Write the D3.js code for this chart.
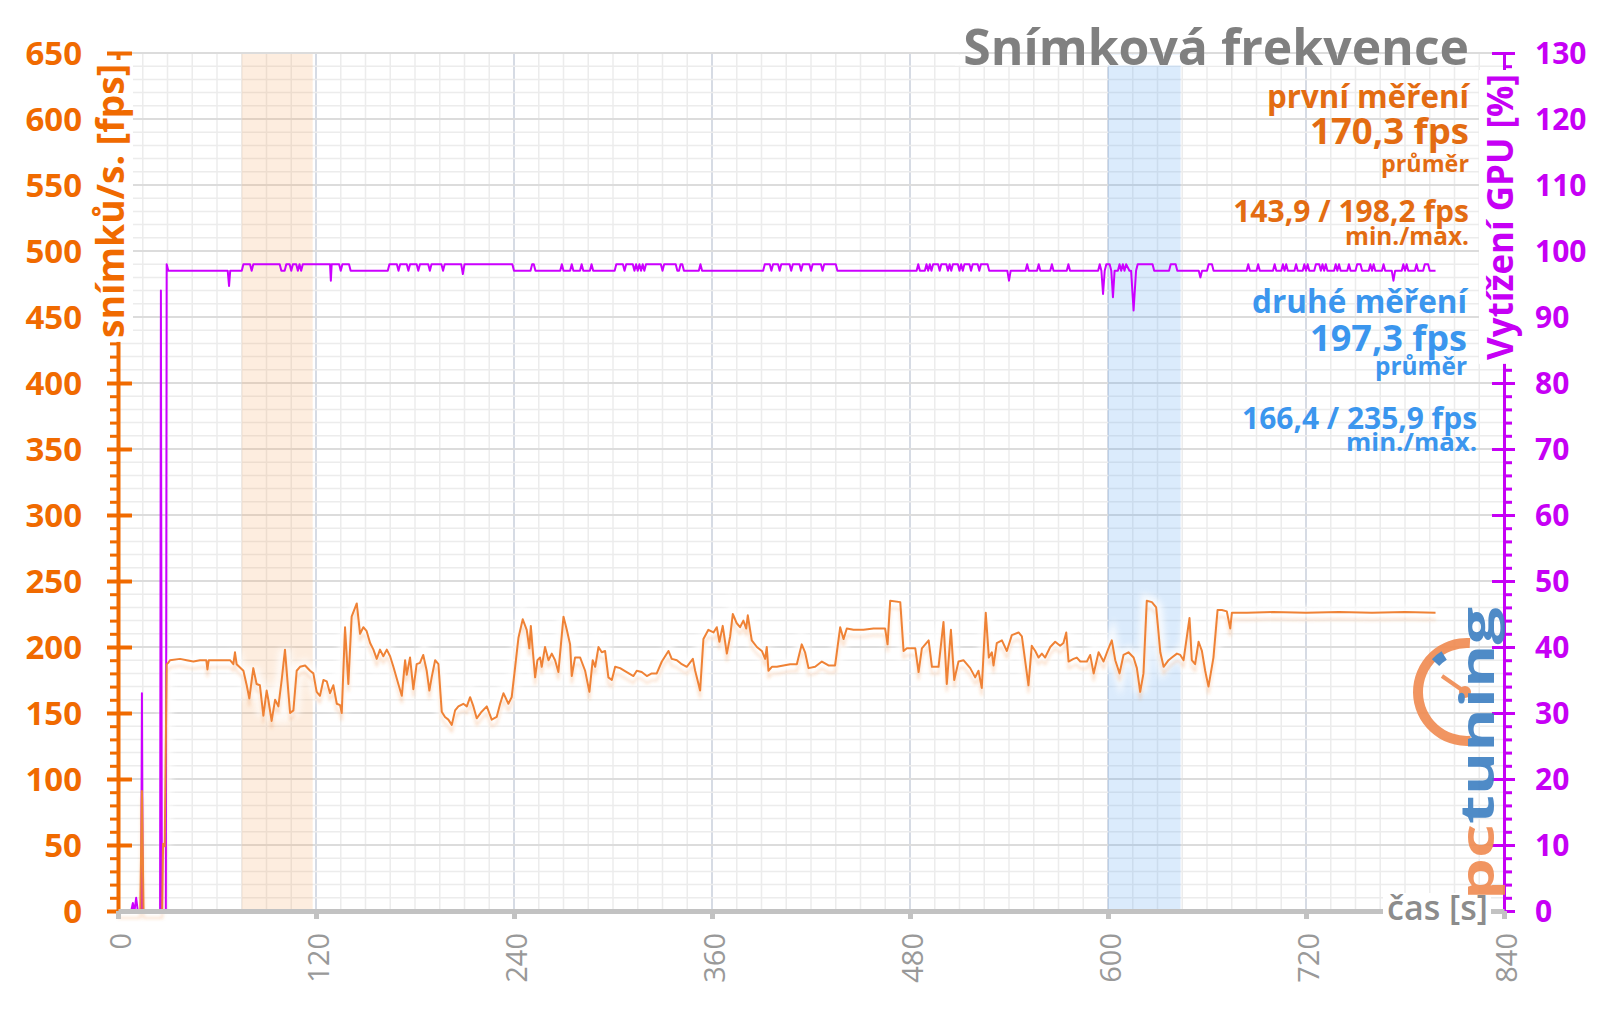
<!DOCTYPE html>
<html>
<head>
<meta charset="utf-8">
<script src="https://cdn.jsdelivr.net/npm/d3@7"></script>
<style>
body { margin: 0; background: #fff; }
svg { display: block; font-family: "Open Sans", sans-serif; }
</style>
</head>
<body>
<svg width="1600" height="1009"></svg>
<script>
// tick values
var fpsTicks = [0, 50, 100, 150, 200, 250, 300, 350, 400, 450, 500, 550, 600, 650];
var gpuTicks = [0, 10, 20, 30, 40, 50, 60, 70, 80, 90, 100, 110, 120, 130];
var timeTicks = [0, 120, 240, 360, 480, 600, 720, 840];

// highlighted ranges [s]
var bandFrom = [75, 600];
var bandTo = [118, 644];

// texts
var titleText = "Snímková frekvence";
var run1Text = ["první měření", "170,3 fps", "průměr", "143,9 / 198,2 fps", "min./max."];
var run2Text = ["druhé měření", "197,3 fps", "průměr", "166,4 / 235,9 fps", "min./max."];

// frame rate [s, fps]
var fps = [[0,0],[13.5,0],[14.5,91],[15.5,0],[26.8,0],[27.3,51],[28.3,49],[29.5,187],[30.5,188],[31.5,190],
[37.6,191],[41.6,190],[45.7,189],[49.7,190],[53.5,190],[54.2,183],[55,190],[67.9,190],[69.9,187],[70.9,196],
[71.9,187],[76,182],[78,171],[79.6,161],[82,184],[84,172],[86,171],[88.1,148],[90.1,167],[91.1,160],
[93.1,144],[95.2,160],[97.2,155],[99.2,175],[101.2,198],[103.3,165],[104.3,150],[106.3,152],[108.3,182],[110.3,185],
[113.4,186],[116.4,182],[118.4,180],[120.4,166],[122.4,163],[124.5,175],[126.5,174],[128.5,165],[130.5,171],[132.6,157],
[134.6,156],[135.6,150],[137.6,215],[139.6,172],[141.6,223],[144.7,233],[146.7,210],[148.7,215],[150.7,212],[152.8,203],
[154.8,198],[156.8,191],[158.8,198],[160.8,193],[162.9,198],[164.9,193],[166.9,185],[169.9,172],[172,163],[174,190],
[175,179],[177,192],[179,168],[181,187],[183,188],[185,194],[187.1,182],[188.7,167],[190.1,177],[192.2,190],
[194.2,187],[196.2,151],[198.2,147],[200.2,145],[202.3,141],[204.3,152],[206.3,155],[209.3,157],[211.4,155],[213.4,162],
[215.4,155],[217.4,146],[220.4,151],[223.5,155],[226.5,145],[229.5,147],[231.6,157],[233.6,165],[236.6,157],[238.6,162],
[240.7,185],[242.7,207],[245.3,221],[247.7,213],[249.3,199],[250.2,216],[251.2,200],[252.8,177],[254.2,190],[255.8,192],
[256.8,185],[258.8,200],[260.9,190],[262.9,195],[264.9,190],[266.9,181],[270,223],[272,213],[274,202],[275,178],
[277,192],[280.1,192],[283.1,182],[285.7,166],[287.7,190],[289.2,185],[291.2,200],[293.2,196],[295.2,197],[297.2,177],
[299.3,175],[301.3,185],[304.3,184],[308.3,181],[312.4,178],[314.4,182],[317.4,181],[320.5,178],[323.5,180],[326.5,180],
[329.6,189],[333.6,197],[335.6,191],[338.7,190],[341.7,187],[344.7,185],[348.4,191],[349.8,182],[352.8,167],[354.8,206],
[357.8,213],[360.9,211],[362.9,215],[364.5,204],[366.5,216],[369,195],[371,208],[372.6,225],[375,218],[377,215],
[379,220],[380.7,214],[381.7,224],[384.1,205],[387.2,200],[390.2,197],[392.2,191],[393.2,200],[394.2,182],[396.3,185],
[399.3,185],[403.3,186],[407.4,187],[411.4,187],[414.4,202],[416.4,196],[418.5,184],[422.5,185],[426.6,189],[430.6,186],
[434.6,186],[437.7,215],[439.7,206],[441.7,214],[445.8,213],[451.8,213],[457.9,214],[464.9,214],[466.4,202],[468,235],
[474.1,234],[476.1,197],[478.1,199],[483.2,199],[485.2,181],[487.2,199],[491.3,205],[493.3,185],[497.3,185],[500.3,219],
[502.3,172],[504.8,213],[506.8,175],[509.4,189],[512.4,190],[516.5,184],[519.5,177],[521.5,182],[523.5,169],[525.9,226],
[527.8,192],[529.6,196],[530.6,186],[532.6,203],[535.7,205],[538.7,197],[541.7,209],[545.8,211],[547.8,208],[551.8,171],
[553.8,201],[555.9,197],[557.9,192],[559.9,195],[561.9,192],[565,200],[568,204],[571,201],[573,203],[574.7,211],
[576.1,189],[579.1,191],[581.1,192],[583.2,189],[587.2,189],[589.2,194],[591.3,180],[594.3,196],[597.3,189],[600.3,199],
[602.3,205],[604.4,190],[607,180],[609.4,194],[612.4,196],[615.5,192],[617.5,184],[619.5,166],[621.5,180],[623.5,235],
[626.6,234],[629.2,230],[631.7,196],[633.7,185],[636.7,190],[638.7,192],[641.8,195],[643.8,194],[645.8,190],[649.4,222],
[650.8,190],[652.8,187],[654.9,204],[656.9,197],[658.9,182],[660.9,170],[663.9,192],[666.4,228],[669,228],[672,227],
[674.1,214],[675.1,226],[684.2,226],[700,226.5],[720,226],[740,226.5],[760,226],[780,226.5],[798.5,226]];

// GPU load [s, %]
var gpu = [[0,0],[8,0],[9,1.2],[10,0],[11,2],[12,0],[14,0],[14.5,33],[15,0],[25.5,0],[26,94],[26.6,0],[29,0],[29.5,98],[30.5,97],
[66.5,97],[67.3,94.7],[68,97],[75,97],[76,98],[80,98],[81,97],[82,98],[98,98],[99,97],[101,97],[102,98],
[104,98],[105,97],[106,98],[108,98],[109,97],[110,98],[111,97],[112,98],[128.5,98],[129,95.5],[129.5,98],
[134,98],[135,97],[136,98],[140,98],[141,97],[163.5,97],[164.5,98],
[169,98],[170,97],[171,98],[175,98],[176,97],[177,98],[181,98],[182,97],[183,98],[188,98],[189,97],[190,98],[196,98],[197,97],[198,98],
[208,98],[209,96.5],[210,98],[239,98],[240,97],[250,97],[251,98],[252,98],[253,97],
[268,97],[269,98],[270,97],[274,97],[275,98],[276,97],[280,97],[281,98],[282,97],[286,97],[287,98],[288,97],
[301,97],[302,98],[306,98],[307,97],[308,98],[312,98],[313,97],[314,98],[315,97],[316,98],[317,97],[318,98],[319,97],[320,98],
[329,98],[330,97],[331,98],[338,98],[339,97],[340,97],[341,98],[342,98],[343,97],[352,97],[353,98],[354,97],
[391,97],[392,98],[395,98],[396,97],[397,98],[400,98],[401,97],[402,98],[407,98],[408,97],[409,98],[413,98],[414,97],[415,98],
[419,98],[420,97],[421,98],[426,98],[427,97],[428,98],[435,98],[436,97],
[484,97],[485,98],[486,97],[489,97],[490,98],[491,97],[492,98],[493,97],[494,98],[497,98],[498,97],[499,98],[502,98],[503,97],
[504,98],[505,97],[506,98],[509,98],[510,97],[511,98],[512,97],[513,98],[516,98],[517,97],[518,98],[521,98],[522,97],[523,98],
[527,98],[528,97],[539,97],[540,95.5],[541,97],[550,97],[551,98],[552,97],[557,97],[558,98],[559,97],[565,97],[566,98],[567,97],
[575,97],[576,98],[577,97],[594,97],[595,98],[596,97],[597,93.5],[598,97],[599,98],[601,98],[602,97],[603,93],[604,97],
[606,97],[607,98],[608,97],[609,98],[610,97],[611,98],[613,97],[614,97],[615.5,91],[617,97],[618,98],[627,98],[628,97],
[637,97],[638,98],[641,98],[642,97],[655,97],[656,96],[657,97],[660,97],[661,98],[663,98],[664,97],
[684,97],[685,98],[686,97],[690,97],[691,98],[692,97],[700,97],[701,98],[702,97],[705,97],[706,98],[707,97],[708,98],[709,97],
[713,97],[714,98],[715,97],[718,97],[719,98],[720,97],[721,98],[722,97],[725,97],[726,98],[728,98],[729,97],[730,98],[731,97],
[732,98],[733,97],[737,97],[738,98],[739,97],[740,98],[741,97],[745,97],[746,98],[747,97],[750,97],[751,98],[753,98],[754,97],
[758,97],[759,98],[760,97],[761,98],[762,97],[766,97],[767,98],[768,97],[772,97],[773,95.5],[774,97],[778,97],[779,98],[780,97],
[781,98],[782,97],[786,97],[787,98],[788,97],[791,97],[792,98],[794,98],[795,97],[798.5,97]];

var orange = "#f06a00", orangeText = "#e36c12", orangeLine = "#ef8236";
var purple = "#c600f5", purpleLine = "#cc00ff";
var blue = "#3b96ee", gray = "#8c8c8c";

var svg = d3.select("svg");

var x = d3.scaleLinear().domain([0, 840]).range([118, 1504]);
var y = d3.scaleLinear().domain([0, 650]).range([911, 53]);
var y2 = d3.scaleLinear().domain([0, 130]).range([911, 53]);

var defs = svg.append("defs");
defs.append("filter").attr("id", "glow").attr("filterUnits", "userSpaceOnUse")
    .attr("x", 0).attr("y", 0).attr("width", 1600).attr("height", 1009)
  .append("feGaussianBlur").attr("stdDeviation", 3);
defs.append("filter").attr("id", "shadow").attr("filterUnits", "userSpaceOnUse")
    .attr("x", 0).attr("y", 0).attr("width", 1600).attr("height", 1009)
  .append("feDropShadow").attr("dx", 0).attr("dy", 7).attr("stdDeviation", 1.5)
    .attr("flood-color", orangeLine).attr("flood-opacity", 0.25);

// grid
var grid = svg.append("g");
grid.selectAll(".vmin").data(d3.range(0, 841, 15)).enter().append("line")
    .attr("x1", function(d) { return x(d); }).attr("x2", function(d) { return x(d); })
    .attr("y1", 53).attr("y2", 911)
    .attr("stroke", function(d) { return d % 120 ? "#ececec" : "#d6dbe4"; })
    .attr("stroke-width", function(d) { return d % 120 ? 1.5 : 2; });
grid.selectAll(".hmin").data(d3.range(10, 651, 10)).enter().append("line")
    .attr("x1", 118).attr("x2", 1504)
    .attr("y1", function(d) { return y(d); }).attr("y2", function(d) { return y(d); })
    .attr("stroke", function(d) { return d % 50 ? "#ececec" : "#dcdcdc"; })
    .attr("stroke-width", function(d) { return d % 50 ? 1.5 : 2; });

// highlighted ranges
svg.selectAll(".band").data(bandFrom).enter().append("rect")
    .attr("x", function(d) { return x(d); })
    .attr("width", function(d, i) { return x(bandTo[i]) - x(d); })
    .attr("y", 54).attr("height", 857)
    .attr("fill", function(d, i) { return i ? "#5aa2f0" : "#f7a35e"; })
    .attr("opacity", function(d, i) { return i ? 0.22 : 0.2; });

// lines
var fpsLine = d3.line().x(function(d) { return x(d[0]); }).y(function(d) { return y(d[1]); });
var gpuLine = d3.line().x(function(d) { return x(d[0]); }).y(function(d) { return y2(d[1]); });

svg.append("path").attr("d", fpsLine(fps.slice(6))).attr("fill", "none")
    .attr("stroke", "#fff").attr("stroke-width", 12).attr("opacity", 0.8).attr("filter", "url(#glow)");
svg.append("path").attr("d", gpuLine(gpu)).attr("fill", "none")
    .attr("stroke", purpleLine).attr("stroke-width", 2).attr("stroke-linejoin", "round");
svg.append("path").attr("d", fpsLine(fps)).attr("fill", "none")
    .attr("stroke", orangeLine).attr("stroke-width", 2).attr("stroke-linejoin", "round")
    .attr("filter", "url(#shadow)");

// title box
svg.append("rect").attr("x", 955).attr("y", 54.5).attr("width", 520).attr("height", 11).attr("fill", "#fff");

function fit(t, w) {
  var fs = +t.attr("font-size");
  t.attr("font-size", fs * w / t.node().getComputedTextLength());
  return t;
}

function label(str, xr, yb, w, color, size) {
  var t = svg.append("text").attr("x", xr).attr("y", yb).attr("text-anchor", "end")
      .attr("font-weight", 700).attr("font-size", size).attr("fill", color).text(str);
  return fit(t, w);
}

label(titleText, 1469, 65, 506, "#808080", 50);
var r1x = [1469, 1469, 1469, 1469, 1469], r1y = [108, 144, 172, 222, 245], r1w = [202, 159, 88, 236, 124];
var r2x = [1467, 1467, 1467, 1477, 1477], r2y = [313, 351, 375, 429, 451], r2w = [215, 157, 92, 235, 131];
run1Text.forEach(function(s, i) { label(s, r1x[i], r1y[i], r1w[i], orangeText, 30); });
run2Text.forEach(function(s, i) { label(s, r2x[i], r2y[i], r2w[i], blue, 30); });

// left axis
var minorFps = d3.range(0, 651, 10).filter(function(d) { return d % 50; });
var minorGpu = d3.range(0, 131, 2).filter(function(d) { return d % 10; });

var lMinor = svg.append("g").attr("transform", "translate(118,0)")
    .call(d3.axisLeft(y).tickValues(minorFps).tickSize(8).tickSizeOuter(0).tickFormat(""));
lMinor.select(".domain").remove();
lMinor.selectAll(".tick line").attr("stroke", orange).attr("stroke-width", 3);

var lAxis = svg.append("g").attr("transform", "translate(118,0)")
    .call(d3.axisLeft(y).tickValues(fpsTicks).tickSize(11).tickSizeOuter(0).tickPadding(25));
lAxis.select(".domain").attr("stroke", orange).attr("stroke-width", 4);
lAxis.selectAll(".tick line").attr("stroke", orange).attr("stroke-width", 4).attr("x1", 14);
lAxis.selectAll(".tick text").attr("fill", orange).attr("font-size", 33).attr("font-weight", 700)
    .attr("font-family", "Open Sans").attr("dy", "0.36em");

// right axis
var rMinor = svg.append("g").attr("transform", "translate(1504,0)")
    .call(d3.axisRight(y2).tickValues(minorGpu).tickSize(8).tickSizeOuter(0).tickFormat(""));
rMinor.select(".domain").remove();
rMinor.selectAll(".tick line").attr("stroke", purple).attr("stroke-width", 3);

var rAxis = svg.append("g").attr("transform", "translate(1504,0)")
    .call(d3.axisRight(y2).tickValues(gpuTicks).tickSize(11).tickSizeOuter(0).tickPadding(20));
rAxis.select(".domain").attr("stroke", purple).attr("stroke-width", 3);
rAxis.selectAll(".tick line").attr("stroke", purple).attr("stroke-width", 3).attr("x1", -12);
rAxis.selectAll(".tick text").attr("fill", purple).attr("font-size", 30).attr("font-weight", 700)
    .attr("font-family", "Open Sans").attr("dy", "0.36em");

// bottom axis
var bAxis = svg.append("g").attr("transform", "translate(0,911)")
    .call(d3.axisBottom(x).tickValues(timeTicks).tickSize(8).tickSizeOuter(0));
bAxis.select(".domain").attr("stroke", "#c2c2c2").attr("stroke-width", 5);
bAxis.selectAll(".tick line").attr("stroke", "#c2c2c2").attr("stroke-width", 5);
bAxis.selectAll(".tick text").attr("fill", "#999").attr("font-size", 29).attr("font-family", "Open Sans")
    .attr("transform", "rotate(-90)").attr("text-anchor", "end")
    .attr("x", -22).attr("y", 0).attr("dy", "0.42em");

// axis titles with white backing
function axisTitle(tx, ty, str, w, color) {
  var g = svg.append("g").attr("transform", "translate(" + tx + "," + ty + ") rotate(-90)");
  var bg = g.append("rect").attr("fill", "#fff");
  var t = g.append("text").attr("text-anchor", "end").attr("font-size", 36)
      .attr("font-weight", 700).attr("fill", color).text(str);
  fit(t, w);
  var b = t.node().getBBox();
  bg.attr("x", b.x - 4).attr("y", b.y + 3).attr("width", b.width + 8).attr("height", b.height - 5);
}
axisTitle(124, 64, "snímků/s. [fps]", 274, orange);
axisTitle(1513, 74, "Vytížení GPU [%]", 286, purple);

// time label
svg.append("rect").attr("x", 1383).attr("y", 893).attr("width", 108).attr("height", 36).attr("fill", "#fff");
var tl = svg.append("text").attr("x", 1488).attr("y", 920).attr("text-anchor", "end")
    .attr("font-size", 32).attr("font-weight", 600).attr("fill", gray).text("čas [s]");
fit(tl, 101);

// logo
var logo = svg.append("g").attr("opacity", 0.9);
var arc = d3.arc();
logo.append("path").attr("transform", "translate(1467,692)")
    .attr("d", arc({innerRadius: 44, outerRadius: 54, startAngle: -Math.PI - 0.08, endAngle: 0.06}))
    .attr("fill", "#f08a50");
logo.append("path").attr("transform", "translate(1467,692)")
    .attr("d", arc({innerRadius: 38, outerRadius: 48, startAngle: -0.82, endAngle: -0.56}))
    .attr("fill", "#3d7fc2");
logo.append("line").attr("x1", 1465).attr("y1", 692).attr("x2", 1442).attr("y2", 676)
    .attr("stroke", "#f08a50").attr("stroke-width", 4);
logo.append("circle").attr("cx", 1465).attr("cy", 692).attr("r", 6).attr("fill", "#f08a50");
var lt = logo.append("text").attr("transform", "translate(1494,900) rotate(-90)")
    .attr("font-size", 46).attr("font-weight", 700)
    .attr("textLength", 293).attr("lengthAdjust", "spacingAndGlyphs");
lt.append("tspan").attr("fill", "#f08a50").text("pc");
lt.append("tspan").attr("fill", "#3d7fc2").text("tuning");
</script>
</body>
</html>
